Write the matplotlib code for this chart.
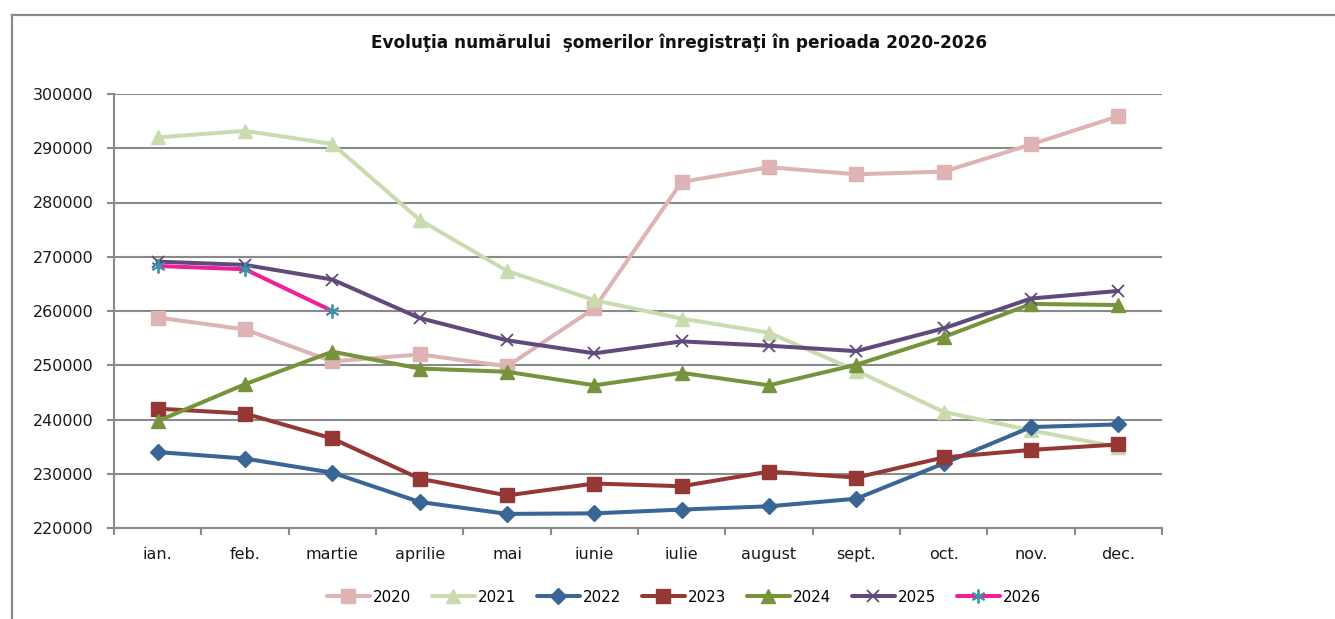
import matplotlib
matplotlib.use("Agg")
import matplotlib.pyplot as plt
from matplotlib.lines import Line2D
import numpy as np

months = ["ian.", "feb.", "martie", "aprilie", "mai", "iunie", "iulie",
          "august", "sept.", "oct.", "nov.", "dec."]

y2020 = [258800, 256600, 250700, 252000, 249800, 260500, 283800, 286500,
         285200, 285700, 290700, 295900]
y2021 = [292000, 293200, 290800, 276800, 267400, 262000, 258600, 256000,
         249000, 241400, 238000, 234900]
y2022 = [234000, 232800, 230200, 224800, 222600, 222700, 223400, 224000,
         225400, 231900, 238600, 239100]
y2023 = [242000, 241100, 236500, 229100, 226000, 228200, 227700, 230400,
         229300, 233000, 234400, 235400]
y2024 = [239700, 246500, 252500, 249400, 248800, 246300, 248600, 246300,
         250100, 255200, 261300, 261100]
y2025 = [269100, 268500, 265800, 258700, 254600, 252200, 254400, 253600,
         252600, 256800, 262300, 263700]
y2026 = [268300, 267700, 260000]

years = ["2020", "2021", "2022", "2023", "2024", "2025", "2026"]
series = [y2020, y2021, y2022, y2023, y2024, y2025, y2026]

styles = [
    dict(color="#DDB4B3", marker="s", ms=10, mfc="#DDB4B3", mec="#DDB4B3"),
    dict(color="#CADBB0", marker="^", ms=10, mfc="#CADBB0", mec="#CADBB0"),
    dict(color="#3A6697", marker="D", ms=8, mfc="#3A6697", mec="#3A6697"),
    dict(color="#953735", marker="s", ms=10, mfc="#953735", mec="#953735"),
    dict(color="#77933C", marker="^", ms=10, mfc="#77933C", mec="#77933C"),
    dict(color="#604A7B", marker="x", ms=9, mfc="#604A7B", mec="#604A7B", mew=1.3),
    dict(color="#F0209A", marker=(6, 2, 0), ms=10, mfc="#3A93A8", mec="#3A93A8", mew=1.3),
]

W, H = 1335, 619
fig = plt.figure(figsize=(W / 100, H / 100), dpi=100)
fig.patch.set_facecolor("white")

ax = fig.add_axes([114 / W, 1 - 528 / H, (1162 - 114) / W, (528 - 94) / H])

x = np.arange(len(months))
handles = []
for yr, vals, st in zip(years, series, styles):
    xs = x[:len(vals)]
    (ln,) = ax.plot(xs, vals, lw=2.9, label=yr, solid_joinstyle="round",
                    solid_capstyle="round", **st)
    handles.append(ln)

grid_col = "#8A8A8A"
ax.set_xlim(-0.5, len(months) - 0.5)
ax.set_ylim(220000, 300000)
ax.set_yticks(np.arange(220000, 300001, 10000))
ax.set_yticklabels([str(v) for v in range(220000, 300001, 10000)])
ax.yaxis.grid(True, color=grid_col, lw=1.5)
ax.set_axisbelow(True)

ax.set_xticks(np.arange(-0.5, len(months), 1.0))
ax.set_xticklabels([])
ax.set_xticks(x, minor=True)
ax.set_xticklabels(months, minor=True)
ax.tick_params(axis="x", which="major", length=5, width=1.5, color=grid_col)
ax.tick_params(axis="x", which="minor", length=0, pad=14, labelsize=11.5,
               labelcolor="#1a1a1a")
ax.tick_params(axis="y", length=5, width=1.5, color=grid_col, pad=9.5,
               labelsize=11.5, labelcolor="#1a1a1a")

for s in ["top", "right"]:
    ax.spines[s].set_visible(False)
for s in ["left", "bottom"]:
    ax.spines[s].set_color(grid_col)
    ax.spines[s].set_linewidth(1.5)

fig.text(679 / W, 1 - 43 / H,
         "Evoluţia numărului  şomerilor înregistraţi în perioada 2020-2026",
         ha="center", va="center", fontsize=12.2, fontweight="bold",
         color="#111111")

leg = fig.legend(handles=handles, labels=years, loc="center",
                 bbox_to_anchor=(684 / W, 1 - 597 / H), ncol=7, frameon=False,
                 fontsize=10.8, handlelength=2.9, handletextpad=0.2,
                 columnspacing=1.35)

# chart border (top and left)
fig.add_artist(Line2D([12 / W, 1.0], [1 - 15 / H, 1 - 15 / H],
                      transform=fig.transFigure, color=grid_col, lw=1.6))
fig.add_artist(Line2D([12 / W, 12 / W], [1 - 15 / H, 0.0],
                      transform=fig.transFigure, color=grid_col, lw=1.6))

fig.savefig("out.png", dpi=100)
